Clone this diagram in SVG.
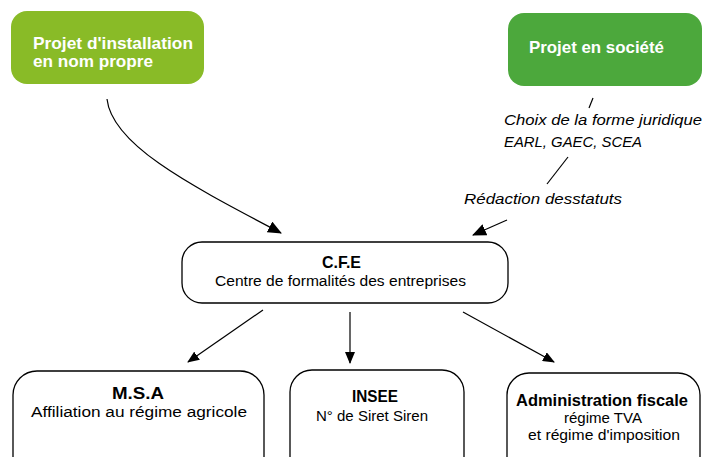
<svg xmlns="http://www.w3.org/2000/svg" width="705" height="457" viewBox="0 0 705 457">
<defs>
<style>
.t{font-family:"Liberation Sans",Arial,sans-serif;font-size:15.5px;fill:#000}
.b{font-weight:bold;font-size:16.5px}
.i{font-style:italic}
.w{fill:#fff;font-weight:bold;font-size:16.5px}
.box{fill:#fff;stroke:#000;stroke-width:1.3}
.ln{fill:none;stroke:#000;stroke-width:1.2}
</style>
<marker id="ah" viewBox="0 0 12 10" refX="11" refY="5" markerWidth="12" markerHeight="10" markerUnits="userSpaceOnUse" orient="auto">
<path d="M0,0 L12,5 L0,10 Z" fill="#000"/>
</marker>
<marker id="ahb" viewBox="0 0 14 12" refX="13" refY="6" markerWidth="14" markerHeight="12" markerUnits="userSpaceOnUse" orient="auto">
<path d="M0,0 L14,6 L0,12 Z" fill="#000"/>
</marker>
</defs>
<rect width="705" height="457" fill="#fff"/>

<g id="node-installation">
<rect x="11" y="11" width="193" height="73" rx="16" fill="#89bb27"/>
<text class="t w" x="33" y="49" textLength="160" lengthAdjust="spacingAndGlyphs">Projet d'installation</text>
<text class="t w" x="33" y="67" textLength="120" lengthAdjust="spacingAndGlyphs">en nom propre</text>
</g>

<g id="node-societe">
<rect x="508" y="13" width="194" height="73" rx="16" fill="#4ca83c"/>
<text class="t w" x="529" y="53" textLength="135" lengthAdjust="spacingAndGlyphs">Projet en société</text>
</g>

<g id="labels-societe">
<text class="t i" x="504" y="125" textLength="198" lengthAdjust="spacingAndGlyphs">Choix de la forme juridique</text>
<text class="t i" x="504" y="147" textLength="138" lengthAdjust="spacingAndGlyphs">EARL, GAEC, SCEA</text>
<text class="t i" x="464" y="204" textLength="158" lengthAdjust="spacingAndGlyphs">Rédaction desstatuts</text>
</g>

<g id="node-cfe">
<rect class="box" x="182" y="242" width="326" height="61" rx="20"/>
<text class="t b" x="322" y="268" textLength="39" lengthAdjust="spacingAndGlyphs">C.F.E</text>
<text class="t" x="215" y="286" textLength="251" lengthAdjust="spacingAndGlyphs">Centre de formalités des entreprises</text>
</g>

<g id="node-msa">
<rect class="box" x="13" y="371" width="251" height="120" rx="24"/>
<text class="t b" x="112" y="399" textLength="52" lengthAdjust="spacingAndGlyphs">M.S.A</text>
<text class="t" x="31" y="417" textLength="216" lengthAdjust="spacingAndGlyphs">Affiliation au régime agricole</text>
</g>

<g id="node-insee">
<rect class="box" x="290" y="370" width="174" height="120" rx="22"/>
<text class="t b" x="352" y="402" textLength="46" lengthAdjust="spacingAndGlyphs">INSEE</text>
<text class="t" x="316" y="421" textLength="112" lengthAdjust="spacingAndGlyphs">N° de Siret Siren</text>
</g>

<g id="node-fiscal">
<rect class="box" x="507" y="373" width="193" height="120" rx="22"/>
<text class="t b" x="516" y="406" textLength="172" lengthAdjust="spacingAndGlyphs">Administration fiscale</text>
<text class="t" x="564" y="423" textLength="78" lengthAdjust="spacingAndGlyphs">régime TVA</text>
<text class="t" x="528" y="440" textLength="152" lengthAdjust="spacingAndGlyphs">et régime d'imposition</text>
</g>

<g id="connectors">
<path class="ln" d="M107,99 C112,145 190,185 281,233" marker-end="url(#ahb)"/>
<line class="ln" x1="593" y1="98" x2="589" y2="108"/>
<line class="ln" x1="568" y1="157" x2="547" y2="184"/>
<line class="ln" x1="507" y1="220" x2="473" y2="235" marker-end="url(#ahb)"/>
<line class="ln" x1="263" y1="310" x2="188" y2="362" marker-end="url(#ah)"/>
<line class="ln" x1="350" y1="312" x2="350" y2="363" marker-end="url(#ah)"/>
<line class="ln" x1="463" y1="312" x2="554" y2="362" marker-end="url(#ah)"/>
</g>
</svg>
